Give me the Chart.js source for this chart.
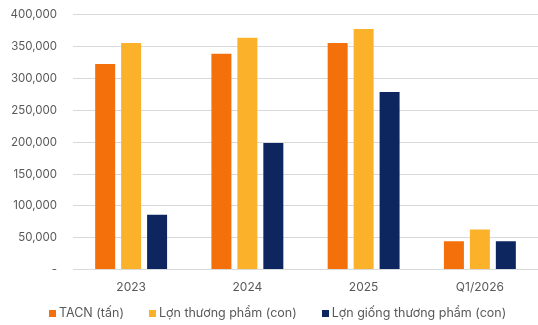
<!DOCTYPE html>
<html>
<head>
<meta charset="utf-8">
<script src="https://cdn.jsdelivr.net/npm/chart.js@4"></script>
<style>
  html, body { margin: 0; padding: 0; background: #fff; }
  #wrap { position: relative; width: 538px; height: 325px; }
  #legend {
    position: absolute; left: 49px; top: 305px;
    display: flex; gap: 25px;
    font-family: Inter, sans-serif; font-size: 12.5px; line-height: 16px; color: #595959;
    white-space: nowrap;
  }
  #legend .item { display: flex; align-items: center; }
  #legend .box { width: 7px; height: 7px; margin-right: 3px; }
</style>
</head>
<body>
<div id="wrap">
  <canvas id="chart" width="538" height="325"></canvas>
  <div id="legend"></div>
</div>
<script>
const categories = ['2023', '2024', '2025', 'Q1/2026'];
const seriesNames = ['TACN (tấn)', 'Lợn thương phẩm (con)', 'Lợn giống thương phẩm (con)'];
const tacn = [323000, 339000, 356000, 44500];
const lonThuongPham = [356000, 364000, 378000, 63000];
const lonGiong = [86000, 199000, 279000, 44500];
const colors = ['#F4700B', '#FCB12A', '#0D2660'];

const ctx = document.getElementById('chart').getContext('2d');
const chart = new Chart(ctx, {
  type: 'bar',
  data: {
    labels: categories,
    datasets: [tacn, lonThuongPham, lonGiong].map((data, i) => ({
      label: seriesNames[i],
      data,
      backgroundColor: colors[i],
      borderWidth: 0,
      categoryPercentage: 0.67,
      barPercentage: 0.77
    }))
  },
  options: {
    responsive: false,
    animation: false,
    layout: { padding: { top: 0, right: 0, left: 0, bottom: 28 } },
    scales: {
      x: {
        grid: { display: false },
        border: { display: false },
        ticks: { color: '#595959', font: { family: 'Inter', size: 12 }, padding: 2.5 }
      },
      y: {
        min: 0,
        max: 400000,
        ticks: {
          stepSize: 50000,
          color: '#595959',
          font: { family: 'Inter', size: 11.5 },
          padding: 8,
          callback: v => v === 0 ? '-' : v.toLocaleString('en-US')
        },
        grid: { color: '#D9D9D9', lineWidth: 1, drawTicks: true, tickLength: 8, tickColor: 'rgba(0,0,0,0)' },
        border: { display: false },
        afterFit: scale => { scale.width = 73; }
      }
    },
    plugins: {
      legend: { display: false },
      tooltip: { enabled: false }
    }
  }
});

// legend below the plot, built from the chart's datasets
const legend = document.getElementById('legend');
chart.data.datasets.forEach(ds => {
  const item = document.createElement('div');
  item.className = 'item';
  item.innerHTML = `<span class="box" style="background:${ds.backgroundColor}"></span><span>${ds.label}</span>`;
  legend.appendChild(item);
});
</script>
</body>
</html>
